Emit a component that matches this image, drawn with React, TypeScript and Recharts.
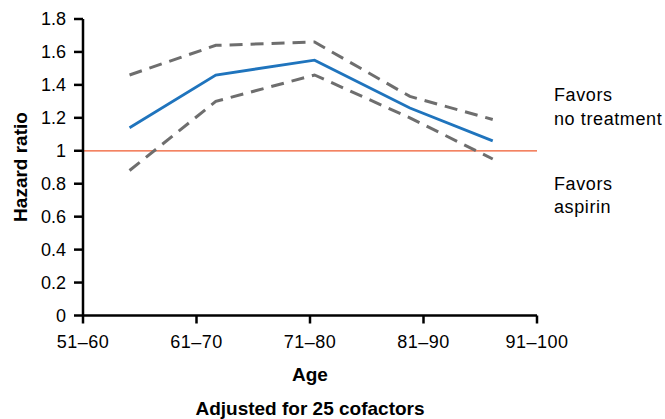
import React from 'react';
import { LineChart, Line, XAxis, YAxis, ReferenceLine } from 'recharts';

// Age groups on the x axis (ticks sit at the group boundaries 0..4)
const ageLabels = ['51–60', '61–70', '71–80', '81–90', '91–100'];
const ageTicks = [0, 1, 2, 3, 4];

// Position of each estimate along the age axis
const groupPos = [0.41, 1.17, 2.04, 2.88, 3.61];

// Hazard ratio and its confidence band
const hazardRatio = [1.14, 1.46, 1.55, 1.26, 1.06];
const upperCI = [1.46, 1.64, 1.66, 1.33, 1.19];
const lowerCI = [0.88, 1.3, 1.46, 1.2, 0.95];

const yTicks = [0, 0.2, 0.4, 0.6, 0.8, 1, 1.2, 1.4, 1.6, 1.8];
const referenceValue = 1;

const chartData = groupPos.map((x, i) => ({
  x,
  hr: hazardRatio[i],
  upper: upperCI[i],
  lower: lowerCI[i],
}));

const FONT = '"Liberation Sans", Arial, Helvetica, sans-serif';

const tickStyle = { fill: '#000', fontSize: 18, fontFamily: FONT };
const axisStroke = { stroke: '#000', strokeWidth: 2.5 };

export default function App() {
  return (
    <div style={{ position: 'absolute', left: 0, top: 0, width: 665, height: 419, background: '#fff' }}>
      <LineChart
        width={665}
        height={419}
        data={chartData}
        margin={{ top: 19, right: 128, bottom: 63.5, left: 0 }}
      >
        <XAxis
          dataKey="x"
          type="number"
          domain={[0, 4]}
          ticks={ageTicks}
          tickFormatter={(v: number) => ageLabels[v]}
          height={40}
          axisLine={axisStroke}
          tickLine={axisStroke}
          tickSize={8}
          tickMargin={12}
          tick={{ ...tickStyle, letterSpacing: 0.5 }}
          interval={0}
        />
        <YAxis
          type="number"
          domain={[0, 1.8]}
          ticks={yTicks}
          tickFormatter={(v: number) => String(Math.round(v * 10) / 10)}
          width={83}
          axisLine={axisStroke}
          tickLine={axisStroke}
          tickSize={9}
          tickMargin={8}
          tick={tickStyle}
          interval={0}
        />
        <ReferenceLine y={referenceValue} stroke="#ef5a2e" strokeWidth={1.3} />
        <Line
          dataKey="upper"
          stroke="#6e6e6e"
          strokeWidth={3}
          strokeDasharray="13 8"
          dot={false}
          isAnimationActive={false}
        />
        <Line
          dataKey="lower"
          stroke="#6e6e6e"
          strokeWidth={3}
          strokeDasharray="13 8"
          dot={false}
          isAnimationActive={false}
        />
        <Line
          dataKey="hr"
          stroke="#1f74bd"
          strokeWidth={2.8}
          dot={false}
          isAnimationActive={false}
        />
      </LineChart>
      <svg
        width={665}
        height={419}
        style={{ position: 'absolute', left: 0, top: 0, pointerEvents: 'none' }}
      >
        <text
          transform="translate(27,167) rotate(-90)"
          textAnchor="middle"
          fontFamily={FONT}
          fontWeight="bold"
          fontSize={19}
        >
          Hazard ratio
        </text>
        <text x={310} y={381} textAnchor="middle" fontFamily={FONT} fontWeight="bold" fontSize={19}>
          Age
        </text>
        <text x={310} y={415} textAnchor="middle" fontFamily={FONT} fontWeight="bold" fontSize={19}>
          Adjusted for 25 cofactors
        </text>
        <g fontFamily={FONT} fontSize={18} letterSpacing={0.6}>
          <text x={554} y={101}>Favors</text>
          <text x={554} y={124.5}>no treatment</text>
          <text x={554} y={189.5}>Favors</text>
          <text x={554} y={213}>aspirin</text>
        </g>
      </svg>
    </div>
  );
}
